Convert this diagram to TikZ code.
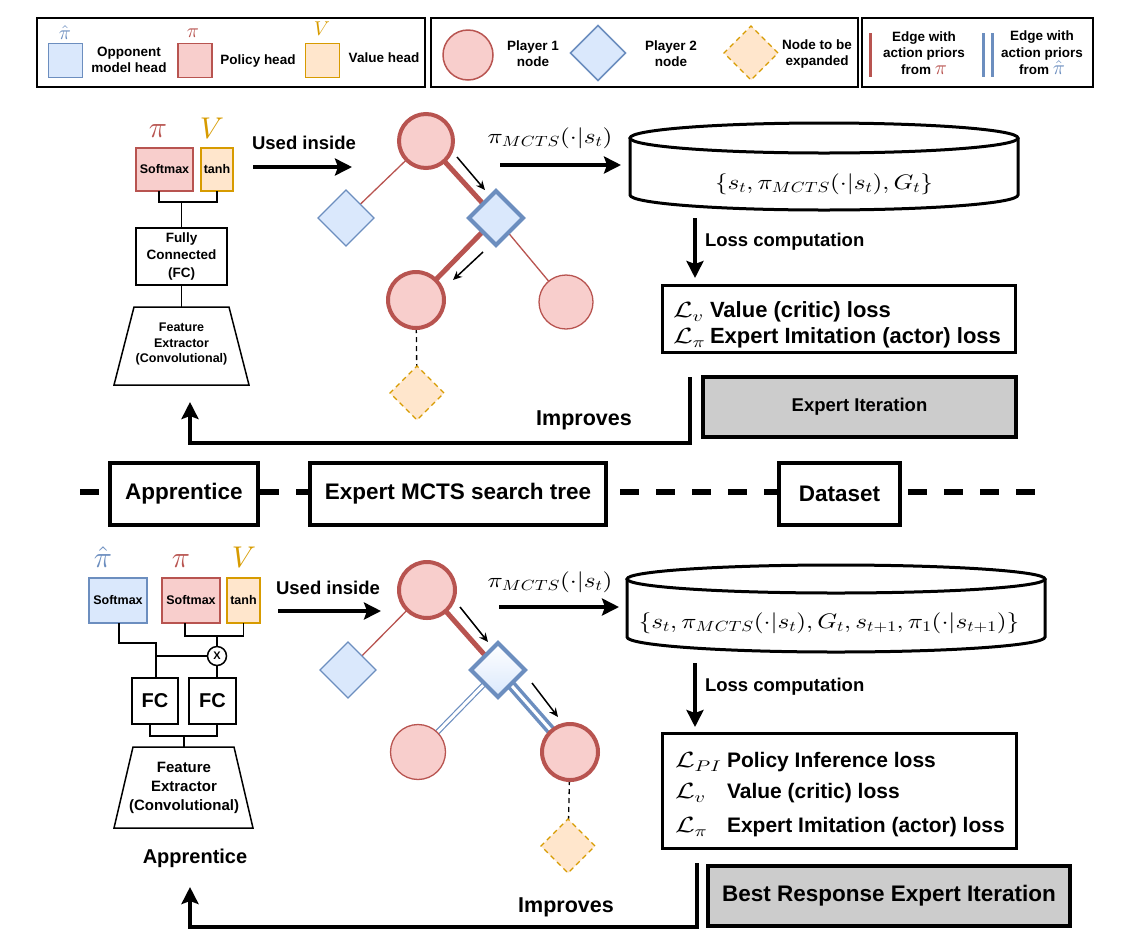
\documentclass[tikz,border=0pt]{standalone}
\usepackage{fontspec}
\setmainfont{Liberation Sans}
\DeclareFontShape{OML}{cmm}{m}{it}{<->cmmi10}{\skewchar\font'177}
\DeclareFontShape{OMS}{cmsy}{m}{n}{<->cmsy10}{\skewchar\font'60}
\DeclareFontShape{OT1}{cmr}{m}{n}{<->cmr10}{}
\usetikzlibrary{arrows.meta,shapes.geometric,calc}
\definecolor{rdraw}{HTML}{B85450}
\definecolor{rfill}{HTML}{F8CECC}
\definecolor{bdraw}{HTML}{6C8EBF}
\definecolor{bfill}{HTML}{DAE8FC}
\definecolor{odraw}{HTML}{D79B00}
\definecolor{ofill}{HTML}{FFE6CC}
\definecolor{gfill}{HTML}{CCCCCC}
\newcommand{\fsz}[2]{\fontsize{#1}{#2}\selectfont}
\pgfdeclarelayer{bg}
\pgfsetlayers{bg,main}
\tikzset{
  every node/.style={inner sep=0pt, outer sep=0pt},
  legbox/.style={draw, line width=2pt},
  leg/.style={font=\bfseries\fsz{13.5}{16}, align=center},
  lmath/.style={font=\fsz{20}{22}},
  hmath/.style={font=\fsz{30}{32}},
  sq/.style={minimum width=34pt, minimum height=34pt, line width=1.5pt},
  headbox/.style={draw, line width=1.5pt, font=\bfseries\fsz{12.5}{14}},
  netbox/.style={draw, line width=1.5pt, align=center, fill=white},
  conn/.style={line width=1.5pt},
  trap/.style={draw, line width=1.5pt, fill=white},
  p1thin/.style={circle, draw=rdraw, fill=rfill, line width=1.3pt},
  p1thick/.style={circle, draw=rdraw, fill=rfill, line width=4pt},
  p2thin/.style={diamond, draw=bdraw, fill=bfill, line width=1.3pt, minimum width=56pt, minimum height=56pt},
  p2thick/.style={diamond, draw=bdraw, fill=bfill, line width=4pt, minimum width=54pt, minimum height=54pt},
  expnode/.style={diamond, draw=odraw, fill=ofill, line width=1.3pt, dash pattern=on 5pt off 4pt, minimum width=54pt, minimum height=54pt},
  redthin/.style={draw=rdraw, line width=1.3pt},
  redthick/.style={draw=rdraw, line width=5pt},
  bluedbl/.style={draw=bdraw, line width=1.2pt, double=white, double distance=3pt},
  bluedblthick/.style={draw=bdraw, line width=3.5pt, double=white, double distance=3pt},
  dashlink/.style={line width=1.3pt, dash pattern=on 5pt off 4pt},
  smallarrow/.style={line width=1.5pt, -{Stealth[length=9pt,width=8pt]}},
  bigarrow/.style={line width=4pt, -{Stealth[length=17pt,width=17pt,inset=3pt]}},
  biglbl/.style={font=\bfseries\fsz{18.5}{21}},
  boxlbl/.style={draw, line width=3.5pt, fill=white, font=\bfseries\fsz{22.5}{26}},
  lossbox/.style={draw, line width=3pt},
  losstxt/.style={font=\bfseries\fsz{22}{26}, anchor=west},
  losstxtb/.style={font=\bfseries\fsz{21}{26}, anchor=west},
  lossmath/.style={font=\fsz{22}{26}, anchor=west},
  iterbox/.style={draw, line width=3.5pt, fill=gfill},
  cylline/.style={line width=3pt},
  mathlbl/.style={font=\fsz{21}{24}},
  sepline/.style={line width=6pt, dash pattern=on 19pt off 17pt},
  improves/.style={font=\bfseries\fsz{21.5}{24}},
}
\begin{document}
\begin{tikzpicture}[x=1pt,y=-1pt]
\useasboundingbox (0,0) rectangle (1134,938);

% ---------------- legend ----------------
\draw[legbox] (37,18) rectangle (425,87);
\draw[legbox] (431,18) rectangle (858,87);
\draw[legbox] (862,18) rectangle (1093,87);

\node[sq, draw=bdraw, fill=bfill] (lg1) at (65.5,60.5) {};
\node[lmath, text=bdraw] (lg1m) at (65,33) {$\hat{\pi}$};
\node[leg] (lg1t) at (129,60) {Opponent\\model head};
\node[sq, draw=rdraw, fill=rfill] (lg2) at (195,60.5) {};
\node[lmath, text=rdraw] (lg2m) at (193,33) {$\pi$};
\node[leg] (lg2t) at (258,61) {Policy head};
\node[sq, draw=odraw, fill=ofill] (lg3) at (322.5,60.5) {};
\node[lmath, text=odraw] (lg3m) at (322,29) {$V$};
\node[leg] (lg3t) at (384,58) {Value head};

\node[p1thin, minimum size=50pt, line width=1.5pt] (lgc) at (468,55) {};
\node[leg] (lgct) at (533,54) {Player 1\\node};
\node[p2thin, minimum width=55pt, minimum height=55pt, line width=1.5pt] (lgd) at (598,53) {};
\node[leg] (lgdt) at (671,54) {Player 2\\node};
\node[expnode] (lge) at (751,53) {};
\node[leg] (lget) at (817,54) {Node to be\\expanded};

\coordinate (lgr1) at (870,33); \coordinate (lgr2) at (870,77);
\draw[draw=rdraw, line width=3pt] (lgr1) -- (lgr2);
\node[leg, font=\bfseries\fsz{13.5}{16.5}] (lgrt) at (924,53) {Edge with\\action priors\\from {\fsz{20}{16.5}\textcolor{rdraw}{$\pi$}}};
\coordinate (lgb1) at (983,33); \coordinate (lgb2) at (983,77);
\coordinate (lgb3) at (992,33); \coordinate (lgb4) at (992,77);
\draw[draw=bdraw, line width=3pt] (lgb1) -- (lgb2);
\draw[draw=bdraw, line width=3pt] (lgb3) -- (lgb4);
\node[leg, font=\bfseries\fsz{13.5}{16.5}] (lgbt) at (1042,53) {Edge with\\action priors\\from {\fsz{20}{16.5}\textcolor{bdraw}{$\hat{\pi}$}}};

% ---------------- top apprentice ----------------
\node[hmath, text=rdraw] (pi1) at (158,131) {$\pi$};
\node[hmath, text=odraw] (v1) at (212,128) {$V$};
\node[headbox, draw=rdraw, fill=rfill, minimum width=57pt, minimum height=43pt] (sm1) at (164.5,169.5) {Softmax};
\node[headbox, draw=odraw, fill=ofill, minimum width=32pt, minimum height=43pt] (th1) at (217,169.5) {tanh};
\coordinate (f1) at (181.5,202);
\node[netbox, minimum width=91pt, minimum height=57pt, font=\bfseries\fsz{13.5}{17.5}] (fc1) at (181.5,256.5) {Fully\\Connected\\(FC)};
\draw[trap] (134,307) -- (229,307) -- (249,385) -- (114,385) -- cycle;
\coordinate (t1top) at (181.5,307);
\node[font=\bfseries\fsz{12.5}{15.5}, align=center] (fe1) at (181.5,344) {Feature\\Extractor\\(Convolutional)};
\draw[conn] ([xshift=-5.5pt]sm1.south) |- (f1) -| (th1.south);
\draw[conn] (f1) -- (f1 |- fc1.north);
\draw[conn] (fc1.south) -- (t1top);

\node[biglbl] (ui1) at (304,143) {Used inside};
\coordinate (ui1s) at (253,167); \coordinate (ui1e) at (352,167);
\draw[bigarrow] (ui1s) -- (ui1e);

% ---------------- top tree ----------------
\node[p1thick, minimum size=54pt] (r1) at (426,141) {};
\node[p2thin] (d1L) at (346,218) {};
\node[p2thick] (d1M) at (496,218) {};
\node[p1thick, minimum size=56pt] (c1L) at (416,300) {};
\node[p1thin, minimum size=54pt] (c1R) at (566,302) {};
\node[expnode] (e1) at (417,393) {};
\begin{pgfonlayer}{bg}
\draw[redthin] (r1) -- (d1L);
\draw[redthick] (r1) -- (d1M);
\draw[redthick] (d1M) -- (c1L);
\draw[redthin] (d1M) -- (c1R);
\draw[dashlink] (c1L) -- (e1);
\end{pgfonlayer}
\coordinate (a1s) at (457,157); \coordinate (a1e) at (485,190);
\coordinate (a2s) at (483,252); \coordinate (a2e) at (453,280);
\draw[smallarrow] (a1s) -- (a1e);
\draw[smallarrow] (a2s) -- (a2e);

\node[mathlbl] (m1l) at (550,138) {\scalebox{1.2}[1]{$\pi_{MCTS}(\cdot|s_t)$}};
\coordinate (m1s) at (500,165); \coordinate (m1e) at (621,165);
\draw[bigarrow] (m1s) -- (m1e);

% ---------------- top dataset ----------------
\draw[cylline, fill=white] (630,138) -- (630,195) arc[start angle=180, end angle=360, x radius=194pt, y radius=15pt] -- (1018,138);
\draw[cylline] (824,138) ellipse [x radius=194pt, y radius=15pt];
\node[mathlbl] (ds1) at (824,184) {\scalebox{1.2}[1]{$\{s_t,\pi_{MCTS}(\cdot|s_t),G_t\}$}};

\coordinate (l1s) at (695,218); \coordinate (l1e) at (695,278);
\draw[bigarrow] (l1s) -- (l1e);
\node[biglbl, anchor=west] (lc1) at (705,242) {Loss computation};
\node[lossbox, minimum width=353pt, minimum height=67pt] (loss1) at (838.5,318.5) {};
\node[lossmath] (L1a) at (673,312) {\scalebox{1.3}[1]{$\mathcal{L}_v$}};
\node[losstxt] (L1at) at (710,312) {Value (critic) loss};
\node[lossmath] (L1b) at (673,338) {\scalebox{1.3}[1]{$\mathcal{L}_\pi$}};
\node[losstxt] (L1bt) at (710,338) {Expert Imitation (actor) loss};

\node[iterbox, minimum width=313pt, minimum height=60pt, font=\bfseries\fsz{18.5}{21}] (ei) at (859.5,407) {Expert Iteration};
\coordinate (i1s) at (690,377); \coordinate (i1c) at (190,443); \coordinate (i1e) at (190,402);
\draw[bigarrow] (i1s) |- (i1c) -- (i1e);
\node[improves] (imp1) at (584,420) {Improves};

% ---------------- separator ----------------
\coordinate (sepL) at (80,492); \coordinate (sepR) at (1036,492);
\draw[sepline] (sepL) -- (sepR);
\node[boxlbl, minimum width=148pt, minimum height=62pt] (sApp) at (184,494) {Apprentice};
\node[boxlbl, minimum width=296pt, minimum height=62pt] (sMCTS) at (458,494) {Expert MCTS search tree};
\node[boxlbl, minimum width=121pt, minimum height=62pt] (sData) at (839.5,494) {Dataset};

% ---------------- bottom apprentice ----------------
\node[hmath, text=bdraw] (pih2) at (103,557) {$\hat{\pi}$};
\node[hmath, text=rdraw] (pi2) at (181,561) {$\pi$};
\node[hmath, text=odraw] (v2) at (244,557) {$V$};
\node[headbox, draw=bdraw, fill=bfill, minimum width=58pt, minimum height=45pt] (bsm2) at (118,600.5) {Softmax};
\node[headbox, draw=rdraw, fill=rfill, minimum width=58pt, minimum height=45pt] (sm2) at (191,600.5) {Softmax};
\node[headbox, draw=odraw, fill=ofill, minimum width=33pt, minimum height=45pt] (th2) at (243.5,600.5) {tanh};
\node[circle, draw, line width=1.5pt, fill=white, minimum size=19pt, font=\bfseries\fsz{11}{12}] (cx) at (217,656) {X};
\node[netbox, minimum width=46pt, minimum height=46pt, font=\bfseries\fsz{20}{22}] (fc2a) at (155,701) {FC};
\node[netbox, minimum width=47pt, minimum height=46pt, font=\bfseries\fsz{20}{22}] (fc2b) at (212.5,701) {FC};
\coordinate (j1) at (156,643); \coordinate (j2) at (156,656);
\coordinate (j3) at (217,636); \coordinate (j4) at (184,736);
\draw[conn] ([xshift=1pt]bsm2.south) |- (j1) -- (j1 |- fc2a.north);
\draw[conn] (j2) -- (cx.west);
\draw[conn] ([xshift=-6pt]sm2.south) |- (j3) -| (th2.south);
\draw[conn] (j3) -- (cx.north);
\draw[conn] (cx.south) -- (cx.south |- fc2b.north);
\draw[conn] ([xshift=-5pt]fc2a.south) |- (j4) -| ([xshift=4.5pt]fc2b.south);
\draw[trap] (133,747) -- (234,747) -- (253,828) -- (114,828) -- cycle;
\coordinate (t2top) at (184,747);
\draw[conn] (j4) -- (t2top);
\node[font=\bfseries\fsz{15}{19.3}, align=center] (fe2) at (184,788) {Feature\\Extractor\\(Convolutional)};
\node[font=\bfseries\fsz{20}{22}] (appl) at (195,858) {Apprentice};

\node[biglbl] (ui2) at (328,588) {Used inside};
\coordinate (ui2s) at (278,611); \coordinate (ui2e) at (381,611);
\draw[bigarrow] (ui2s) -- (ui2e);

% ---------------- bottom tree ----------------
\node[p1thick, minimum size=56pt] (r2) at (427,590) {};
\node[p2thin] (d2L) at (348,670) {};
\node[p2thick, top color=white, bottom color=bfill] (d2M) at (498,670) {};
\node[p1thin, minimum size=55pt] (c2L) at (418,752) {};
\node[p1thick, minimum size=56pt] (c2R) at (570,752) {};
\node[expnode] (e2) at (568,846) {};
\begin{pgfonlayer}{bg}
\draw[redthin] (r2) -- (d2L);
\draw[redthick] (r2) -- (d2M);
\draw[bluedbl] (d2M) -- (c2L);
\draw[bluedblthick] (d2M) -- (c2R);
\draw[dashlink] (c2R) -- (e2);
\end{pgfonlayer}
\coordinate (b1s) at (460,607); \coordinate (b1e) at (488,642);
\coordinate (b2s) at (532,683); \coordinate (b2e) at (558,717);
\draw[smallarrow] (b1s) -- (b1e);
\draw[smallarrow] (b2s) -- (b2e);

\node[mathlbl] (m2l) at (550,582) {\scalebox{1.2}[1]{$\pi_{MCTS}(\cdot|s_t)$}};
\coordinate (m2s) at (499,607); \coordinate (m2e) at (619,607);
\draw[bigarrow] (m2s) -- (m2e);

% ---------------- bottom dataset ----------------
\draw[cylline, fill=white] (627,579) -- (627,637) arc[start angle=180, end angle=360, x radius=209pt, y radius=15pt] -- (1045,579);
\draw[cylline] (836,579) ellipse [x radius=209pt, y radius=14pt];
\node[mathlbl] (ds2) at (829,623) {\scalebox{1.2}[1]{$\{s_t,\pi_{MCTS}(\cdot|s_t),G_t,s_{t+1},\pi_1(\cdot|s_{t+1})\}$}};

\coordinate (l2s) at (695,663); \coordinate (l2e) at (695,727);
\draw[bigarrow] (l2s) -- (l2e);
\node[biglbl, anchor=west] (lc2) at (705,687) {Loss computation};
\node[lossbox, minimum width=354pt, minimum height=115pt] (loss2) at (839,790.5) {};
\node[lossmath] (L2a) at (675,762) {\scalebox{1.3}[1]{$\mathcal{L}_{PI}$}};
\node[losstxtb] (L2at) at (727,762) {Policy Inference loss};
\node[lossmath] (L2b) at (675,793) {\scalebox{1.3}[1]{$\mathcal{L}_v$}};
\node[losstxtb] (L2bt) at (727,793) {Value (critic) loss};
\node[lossmath] (L2c) at (675,827) {\scalebox{1.3}[1]{$\mathcal{L}_\pi$}};
\node[losstxtb] (L2ct) at (727,827) {Expert Imitation (actor) loss};

\node[iterbox, minimum width=362pt, minimum height=60pt, font=\bfseries\fsz{22.5}{26}] (brei) at (889,896) {Best Response Expert Iteration};
\coordinate (i2s) at (697,863); \coordinate (i2c) at (190,927); \coordinate (i2e) at (190,887);
\draw[bigarrow] (i2s) |- (i2c) -- (i2e);
\node[improves] (imp2) at (566,907) {Improves};
\end{tikzpicture}
\end{document}
